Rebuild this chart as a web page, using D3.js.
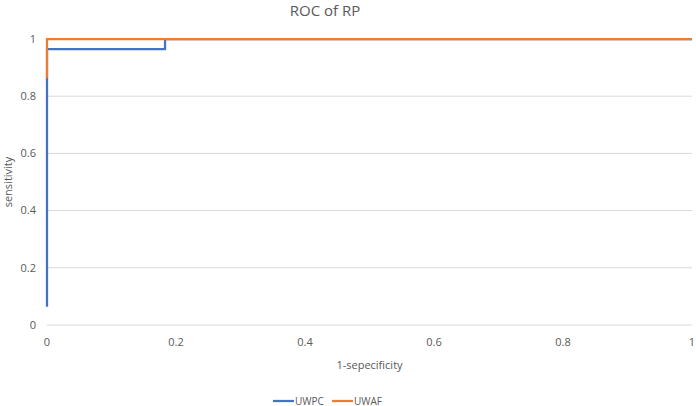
<!DOCTYPE html>
<html>
<head>
<meta charset="utf-8">
<script src="https://cdn.jsdelivr.net/npm/d3@7"></script>
<style>
body{margin:0;background:#fff;}
text{font-family:"Open Sans","Noto Sans",sans-serif;fill:#595959;}
</style>
</head>
<body>
<div id="chart"></div>
<script>
// ROC points
const seriesNames = ["UWPC", "UWAF"];
const seriesColors = ["#4472C4", "#ED7D31"];
const uwpcPoints = [[0, 0.064], [0, 0.965], [0.183, 0.965], [0.183, 1], [1, 1]];
const uwafPoints = [[0, 0.863], [0, 1], [1, 1]];
const tickValues = [0, 0.2, 0.4, 0.6, 0.8, 1];

const W = 696, H = 406;
const margin = {top:39, right:4, bottom:81, left:47};
const width = W - margin.left - margin.right;
const height = H - margin.top - margin.bottom;

const svg = d3.select("#chart").append("svg")
    .attr("width", W).attr("height", H);

const g = svg.append("g")
    .attr("transform", `translate(${margin.left},${margin.top})`);

const x = d3.scaleLinear().domain([0,1]).range([0,width]);
const y = d3.scaleLinear().domain([0,1]).range([height,0]);

// horizontal gridlines
g.selectAll(".grid")
    .data(tickValues)
    .enter().append("line")
    .attr("x1",0).attr("x2",width)
    .attr("y1",d=>y(d)).attr("y2",d=>y(d))
    .style("stroke","#d9d9d9")
    .style("stroke-width","1px");

// y tick labels
g.selectAll(".ylab")
    .data(tickValues)
    .enter().append("text")
    .attr("x",-11).attr("y",d=>y(d))
    .attr("dy","0.35em")
    .style("text-anchor","end")
    .style("font-size","11px")
    .text(d=>d);

// x tick labels
g.selectAll(".xlab")
    .data(tickValues)
    .enter().append("text")
    .attr("x",d=>x(d)).attr("y",height+17)
    .attr("dy","0.35em")
    .style("text-anchor","middle")
    .style("font-size","11px")
    .text(d=>d);

const line = d3.line().x(d=>x(d[0])).y(d=>y(d[1]));

[uwpcPoints, uwafPoints].forEach((pts,i) => {
    g.append("path")
        .datum(pts)
        .attr("d", line)
        .style("fill","none")
        .style("stroke", seriesColors[i])
        .style("stroke-width","2.25px");
});

// title
svg.append("text")
    .attr("x", 325).attr("y", 16)
    .style("text-anchor","middle")
    .style("font-size","15px")
    .text("ROC of RP");

// axis titles
svg.append("text")
    .attr("x", margin.left + width/2).attr("y", 365)
    .attr("dy","0.35em")
    .style("text-anchor","middle")
    .style("font-size","11px")
    .text("1-sepecificity");

svg.append("text")
    .attr("transform", `translate(8,${margin.top + height/2}) rotate(-90)`)
    .attr("dy","0.35em")
    .style("text-anchor","middle")
    .style("font-size","11px")
    .text("sensitivity");

// legend
const legend = svg.append("g").attr("transform","translate(273,401)");
const item = legend.selectAll(".item")
    .data(seriesNames)
    .enter().append("g")
    .attr("transform",(d,i)=>`translate(${i*59},0)`);
item.append("line")
    .attr("x1",0).attr("x2",21).attr("y1",0).attr("y2",0)
    .style("stroke",(d,i)=>seriesColors[i])
    .style("stroke-width","2.25px");
item.append("text")
    .attr("x",22).attr("y",0).attr("dy","0.35em")
    .style("font-size","10px")
    .text(d=>d);
</script>
</body>
</html>
